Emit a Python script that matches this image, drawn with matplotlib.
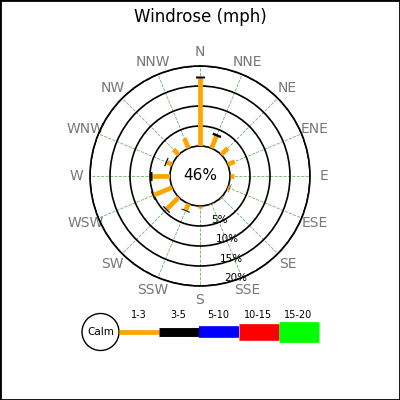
import numpy as np
import matplotlib
matplotlib.use('Agg')
import matplotlib.pyplot as plt
from matplotlib.patches import Rectangle, Circle

# direction labels, clockwise from north
dirs = ['N', 'NNE', 'NE', 'ENE', 'E', 'ESE', 'SE', 'SSE',
        'S', 'SSW', 'SW', 'WSW', 'W', 'WNW', 'NW', 'NNW']
# percent of observations per direction and speed bin
spd_1_3 = [17.1, 3.2, 2.35, 1.9, 1.1, 0.5, 0.2, 0.15,
           0.5, 1.75, 4.2, 5.0, 4.6, 1.45, 1.9, 2.7]
spd_3_5 = [0.5, 0.6, 0.0, 0.0, 0.0, 0.1, 0.05, 0.0,
           0.0, 0.25, 0.3, 0.35, 0.4, 0.3, 0.0, 0.0]
calm_pct = 46
bins = ['1-3', '3-5', '5-10', '10-15', '15-20']
bin_colors = ['orange', 'black', 'blue', 'red', 'lime']
bin_widths = [3.4, 6.4, 8.4, 12.0, 14.9]
rings = [5, 10, 15, 20]

fig = plt.figure(figsize=(4, 4), dpi=100)
fig.patches.append(Rectangle((0, 0), 1, 1, transform=fig.transFigure,
                             fill=False, edgecolor='black', lw=2))
fig.text(0.5, 0.958, 'Windrose (mph)', ha='center', va='center', fontsize=12)

ax = fig.add_axes([0.225, 0.285, 0.55, 0.55], projection='polar')
ax.set_theta_zero_location('N')
ax.set_theta_direction(-1)
ax.set_ylim(0, 20)
ax.set_rorigin(-7.5)

theta = np.radians(np.arange(16) * 22.5)
ax.set_xticks(theta)
ax.set_xticklabels(dirs, color='#777777', fontsize=10)
ax.tick_params(axis='x', pad=-0.5)
ax.set_yticks(rings)
ax.set_yticklabels(['%d%%' % r for r in rings], fontsize=7.5)
ax.set_rlabel_position(167)
ax.xaxis.grid(True, color='green', linestyle='--', lw=0.6, alpha=0.6)
ax.yaxis.grid(True, color='black', linestyle='-', lw=1.2)
for sp in ax.spines.values():
    sp.set_color('black')
    sp.set_linewidth(1.2)

for t, a, b in zip(theta, spd_1_3, spd_3_5):
    ax.plot([t, t], [0, a], color=bin_colors[0], lw=bin_widths[0],
            solid_capstyle='butt', zorder=3)
    if b > 0:
        ax.plot([t, t], [a, a + b], color=bin_colors[1], lw=bin_widths[1],
                solid_capstyle='butt', zorder=3)

ax.text(0.5, 0.5, '%d%%' % calm_pct, transform=ax.transAxes,
        ha='center', va='center', fontsize=11)

# legend along the bottom (pixel coords)
lax = fig.add_axes([0, 0, 1, 1])
lax.set_xlim(0, 400)
lax.set_ylim(400, 0)
lax.axis('off')
lax.add_patch(Circle((100.5, 332), 18.5, fill=False, edgecolor='black', lw=1))
lax.text(100.5, 332, 'Calm', ha='center', va='center', fontsize=7.5)
for i, (lab, c, w) in enumerate(zip(bins, bin_colors, bin_widths)):
    x0 = 118.5 + 40 * i
    lax.plot([x0, x0 + 40], [332, 332], color=c, lw=w, solid_capstyle='butt')
    lax.text(x0 + 20, 315, lab, ha='center', va='center', fontsize=7)

fig.savefig('out.png', dpi=100)
